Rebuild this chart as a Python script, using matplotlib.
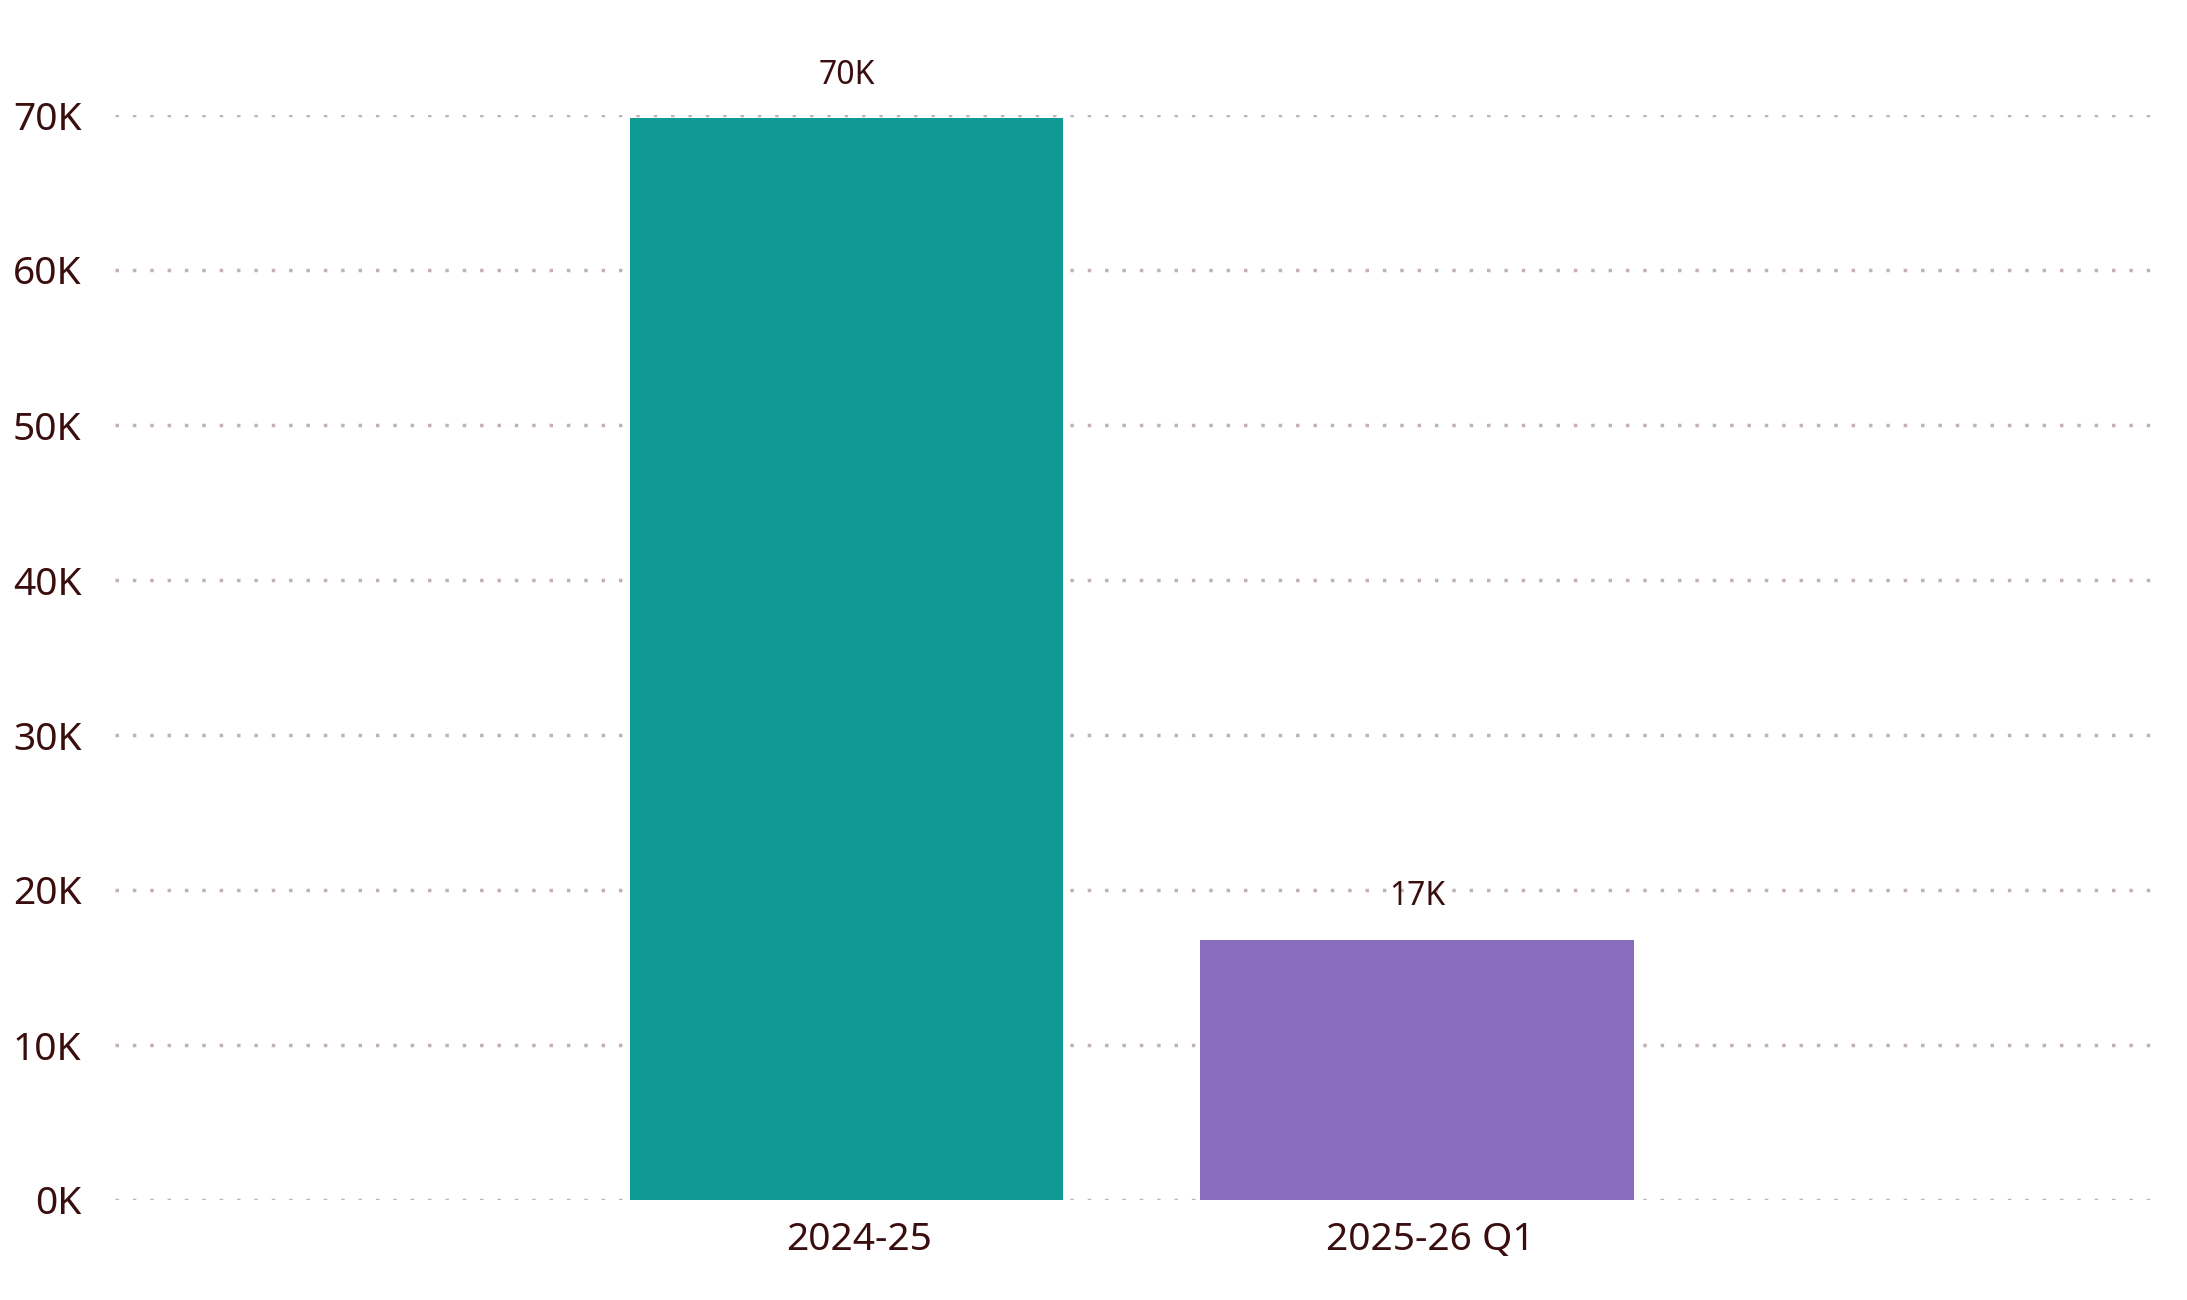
import matplotlib
matplotlib.use("Agg")
import matplotlib.pyplot as plt
from matplotlib.transforms import ScaledTranslation

categories = ["2024-25", "2025-26 Q1"]
values = [69800, 16800]
value_labels = ["70K", "17K"]
yticks = [0, 10000, 20000, 30000, 40000, 50000, 60000, 70000]
ytick_labels = ["0K", "10K", "20K", "30K", "40K", "50K", "60K", "70K"]
bar_colors = ["#0F9A95", "#8A6CBD"]

TEXT = "#3A0E0E"
plt.rcParams['font.family'] = ['Noto Sans', 'DejaVu Sans']

fig = plt.figure(figsize=(21.87, 13), dpi=100)
ax = fig.add_axes([115/2187, 1 - 1200/1300, (2157-115)/2187, (1200-115)/1300])

x = list(range(len(categories)))
ax.bar(x, values, width=0.759, color=bar_colors, zorder=2)
ax.set_xlim(-1.282, 2.297)
ax.set_ylim(0, 70000)

ax.set_yticks(yticks)
ax.set_yticklabels(ytick_labels)
ax.set_xticks(x)
ax.set_xticklabels(categories)
ax.tick_params(axis='y', length=0, pad=24, labelsize=28, labelcolor=TEXT)
ax.tick_params(axis='x', length=0, pad=15, labelsize=28, labelcolor=TEXT)
for lab in ax.get_xticklabels():
    lab.set_transform(lab.get_transform() + ScaledTranslation(13/100, 0, fig.dpi_scale_trans))

ax.grid(axis='y', color='#C4B2B2', linewidth=2.5, linestyle=(0, (1, 4.0)), zorder=0)
ax.grid(axis='x', visible=False)
for s in ax.spines.values():
    s.set_visible(False)

for xi, v, lab in zip(x, values, value_labels):
    ax.annotate(lab, (xi, v), xytext=(0, 31), textcoords='offset points',
                ha='center', va='center', fontsize=23, color=TEXT, clip_on=False)

fig.savefig("out.png", dpi=100, facecolor='white')
